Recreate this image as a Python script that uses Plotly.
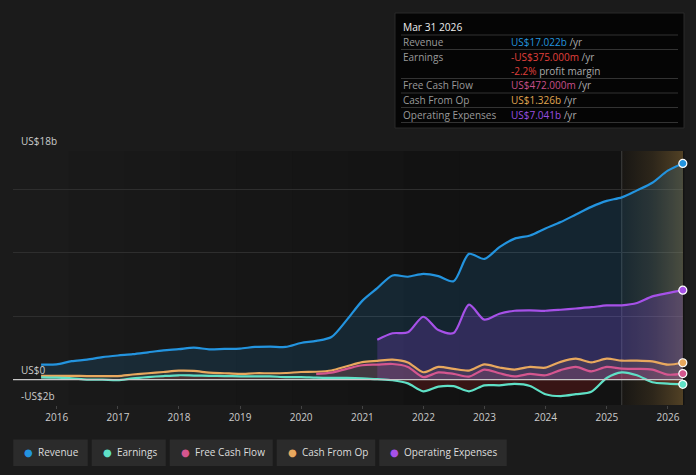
import pandas as pd
import plotly.graph_objects as go

# ---------------- data (US$ billions, quarterly, trailing twelve months) ----------------
dates = pd.date_range("2015-09-30", "2026-03-31", freq="QE")

revenue = [1.18, 1.20, 1.45, 1.57, 1.77, 1.90, 2.00, 2.15, 2.30, 2.40, 2.52, 2.38,
           2.42, 2.44, 2.57, 2.60, 2.57, 2.88, 3.05, 3.35, 4.70, 6.20, 7.20, 8.20,
           8.10, 8.33, 8.15, 7.75, 9.90, 9.50, 10.43, 11.10, 11.35, 11.90, 12.40,
           13.00, 13.60, 14.07, 14.35, 14.90, 15.50, 16.45, 17.022]

earnings = [0.18, 0.15, 0.10, 0.00, 0.00, -0.05, 0.10, 0.20, 0.28, 0.34, 0.32, 0.30,
            0.28, 0.26, 0.26, 0.25, 0.20, 0.20, 0.15, 0.13, 0.13, 0.10, 0.03, -0.05,
            -0.30, -0.92, -0.55, -0.52, -0.92, -0.45, -0.45, -0.34, -0.50, -1.15,
            -1.30, -1.15, -0.95, 0.13, 0.57, 0.34, -0.21, -0.31, -0.375]

cash_from_op = [0.30, 0.30, 0.30, 0.28, 0.28, 0.28, 0.40, 0.50, 0.60, 0.70, 0.68, 0.55,
                0.50, 0.45, 0.50, 0.50, 0.52, 0.60, 0.62, 0.72, 1.05, 1.38, 1.48, 1.57,
                1.35, 0.58, 1.00, 0.85, 0.71, 1.20, 0.95, 0.79, 1.00, 0.94, 1.40, 1.65,
                1.36, 1.65, 1.49, 1.50, 1.44, 1.18, 1.326]

fcf_dates = dates[dates >= "2020-03-31"]
free_cash_flow = [0.45, 0.55, 0.85, 1.13, 1.18, 1.23, 1.00, 0.20, 0.57, 0.45, 0.24,
                  0.79, 0.50, 0.26, 0.45, 0.34, 0.75, 1.00, 0.65, 1.00, 0.86, 0.85,
                  0.79, 0.39, 0.472]

opex_dates = dates[dates >= "2021-03-31"]
operating_expenses = [3.14, 3.65, 3.72, 4.95, 3.90, 3.67, 5.90, 4.72, 5.19, 5.42, 5.45,
                      5.42, 5.50, 5.60, 5.70, 5.84, 5.85, 6.03, 6.55, 6.81, 7.041]

year_ticks = [str(y) for y in range(2016, 2027)]
y_labels = {18: "US$18b", 0: "US$0", -2: "-US$2b"}
y_range = [-2, 18]
forecast_start = "2025-03-31"
forecast_end = "2026-04-01"

series_names = ["Revenue", "Earnings", "Free Cash Flow", "Cash From Op", "Operating Expenses"]
colors = {"Revenue": "#2394df", "Earnings": "#5fe0c6", "Free Cash Flow": "#d4568f",
          "Cash From Op": "#e8a85e", "Operating Expenses": "#a651e8"}

tooltip_title = "Mar 31 2026"
tooltip_rows = [("Revenue", "US$17.022b", "#2394df", " /yr"),
                ("Earnings", "-US$375.000m", "#e0403c", " /yr"),
                ("", "-2.2%", "#e0403c", " profit margin"),
                ("Free Cash Flow", "US$472.000m", "#c8508a", " /yr"),
                ("Cash From Op", "US$1.326b", "#e0a552", " /yr"),
                ("Operating Expenses", "US$7.041b", "#9a4fe0", " /yr")]

# ---------------- geometry helpers (pixel -> paper) ----------------
W, H = 696, 475
L, R, T, B = 13, 13, 151, 70
PW, PH = W - L - R, H - T - B
def px(x): return (x - L) / PW
def py(y): return (H - B - y) / PH

FONT = "Open Sans"
fig = go.Figure()

# forecast (estimate) band with horizontal gradient
fig.add_trace(go.Scatter(
    x=[forecast_start, forecast_end, forecast_end, forecast_start, forecast_start],
    y=[y_range[0], y_range[0], y_range[1], y_range[1], y_range[0]],
    mode="lines", line=dict(width=0), fill="toself",
    fillgradient=dict(type="horizontal",
                      colorscale=[[0, "rgba(140,108,55,0.05)"], [0.5, "rgba(140,108,55,0.22)"],
                                  [1, "rgba(145,112,55,0.50)"]]),
    hoverinfo="skip", showlegend=False))

def add_series(name, x, y, fillcolor, fill=True):
    fig.add_trace(go.Scatter(
        x=x, y=y, mode="lines", name=name,
        line=dict(color=colors[name], width=2.2, shape="spline", smoothing=0.8),
        fill="tozeroy" if fill else None, fillcolor=fillcolor,
        hoverinfo="skip", showlegend=False))
    fig.add_trace(go.Scatter(
        x=[x[-1]], y=[y[-1]], mode="markers", showlegend=False, hoverinfo="skip",
        marker=dict(size=8, color=colors[name], line=dict(color="white", width=1.2)),
        cliponaxis=False))

add_series("Revenue", dates, revenue, "rgba(35,148,223,0.15)")
add_series("Operating Expenses", opex_dates, operating_expenses, "rgba(150,75,235,0.22)")
add_series("Cash From Op", dates, cash_from_op, "rgba(232,168,94,0.10)")
add_series("Free Cash Flow", fcf_dates, free_cash_flow, "rgba(212,86,143,0.14)")
add_series("Earnings", dates, earnings, "rgba(190,30,30,0.22)")

shapes = []
# plot background gradient (left lighter to right darker)
n = 12
for i in range(n):
    c = int(27 - 9 * min(1, i / (n * 0.65)))
    shapes.append(dict(type="rect", xref="paper", yref="paper",
                       x0=i / n, x1=(i + 1) / n + 0.002, y0=0, y1=1,
                       fillcolor=f"rgb({c},{c},{c})", line_width=0, layer="below"))
shapes.append(dict(type="line", xref="x", yref="paper", x0=forecast_start, x1=forecast_start,
                   y0=0, y1=1, line=dict(color="rgba(120,120,120,0.45)", width=1), layer="below"))
# zero line
shapes.append(dict(type="line", xref="paper", yref="y", x0=0, x1=1, y0=0, y1=0,
                   line=dict(color="#c8c8c8", width=1.2), layer="above"))

# tooltip box
shapes.append(dict(type="rect", xref="paper", yref="paper", x0=px(395), x1=px(684),
                   y0=py(128), y1=py(13), fillcolor="#050505", line=dict(color="#2a2a2a", width=1)))
for ly in [35, 49.5, 78.5, 93, 107.5, 122.5]:
    shapes.append(dict(type="line", xref="paper", yref="paper", x0=px(401), x1=px(678),
                       y0=py(ly), y1=py(ly), line=dict(color="#333333", width=1)))

annotations = []
annotations.append(dict(xref="paper", yref="paper", x=px(401), y=py(26.5), text=tooltip_title,
                        showarrow=False, xanchor="left", yanchor="middle",
                        font=dict(family=FONT, size=10.2, color="#eeeeee")))
row_y = [42, 56.5, 71, 85, 100, 115]
for (lab, val, col, suffix), yy in zip(tooltip_rows, row_y):
    if lab:
        annotations.append(dict(xref="paper", yref="paper", x=px(401), y=py(yy), text=lab,
                                showarrow=False, xanchor="left", yanchor="middle",
                                font=dict(family=FONT, size=10, color="#9a9a9a")))
    annotations.append(dict(xref="paper", yref="paper", x=px(509), y=py(yy),
                            text=f'<span style="color:{col}">{val}</span>{suffix}',
                            showarrow=False, xanchor="left", yanchor="middle",
                            font=dict(family=FONT, size=10, color="#aaaaaa")))

# y labels
for v, yy in zip([18, 0, -2], [141, 370, 396]):
    annotations.append(dict(xref="paper", yref="paper", x=px(19), y=py(yy), text=y_labels[v],
                            showarrow=False, xanchor="left", yanchor="middle",
                            font=dict(family=FONT, size=10, color="#cccccc")))

# legend boxes
boxes = [(13.3, 87.7), (91.7, 165.7), (169.7, 272.7), (276.7, 375.3), (379.3, 506.7)]
for name, (x0, x1) in zip(series_names, boxes):
    shapes.append(dict(type="rect", xref="paper", yref="paper", x0=px(x0), x1=px(x1),
                       y0=py(466), y1=py(439.5), fillcolor="#2b2b2b", line_width=0))
    annotations.append(dict(xref="paper", yref="paper", x=px(x0 + 9), y=py(452.5),
                            text=f'<span style="color:{colors[name]}">●</span>',
                            showarrow=False, xanchor="left", yanchor="middle",
                            font=dict(family="DejaVu Sans", size=10, color=colors[name])))
    annotations.append(dict(xref="paper", yref="paper", x=px(x0 + 23), y=py(452),
                            text=name, showarrow=False, xanchor="left", yanchor="middle",
                            font=dict(family=FONT, size=10, color="#dddddd")))

fig.update_layout(
    width=W, height=H, margin=dict(l=L, r=R, t=T, b=B),
    paper_bgcolor="#1b1b1b", plot_bgcolor="rgba(0,0,0,0)",
    font=dict(family=FONT, color="#cccccc", size=10),
    showlegend=False, shapes=shapes, annotations=annotations,
    xaxis=dict(type="date", range=["2015-04-15", forecast_end],
               tickvals=[f"{y}-01-01" for y in year_ticks], ticktext=year_ticks,
               showgrid=False, zeroline=False, showline=False,
               ticks="outside", ticklen=3, tickcolor="#444444",
               tickfont=dict(family=FONT, size=10, color="#cccccc")),
    yaxis=dict(range=y_range, tickvals=[-2, 0, 5, 10, 15, 18], showticklabels=False,
               showgrid=True, gridcolor="#2e2e2e", gridwidth=1, zeroline=False,
               showline=False, fixedrange=True),
)

fig.write_html("out.html", config={"displayModeBar": False},
               post_script="document.body.style.margin='0';document.body.style.background='#1b1b1b';document.body.style.overflow='hidden';")
